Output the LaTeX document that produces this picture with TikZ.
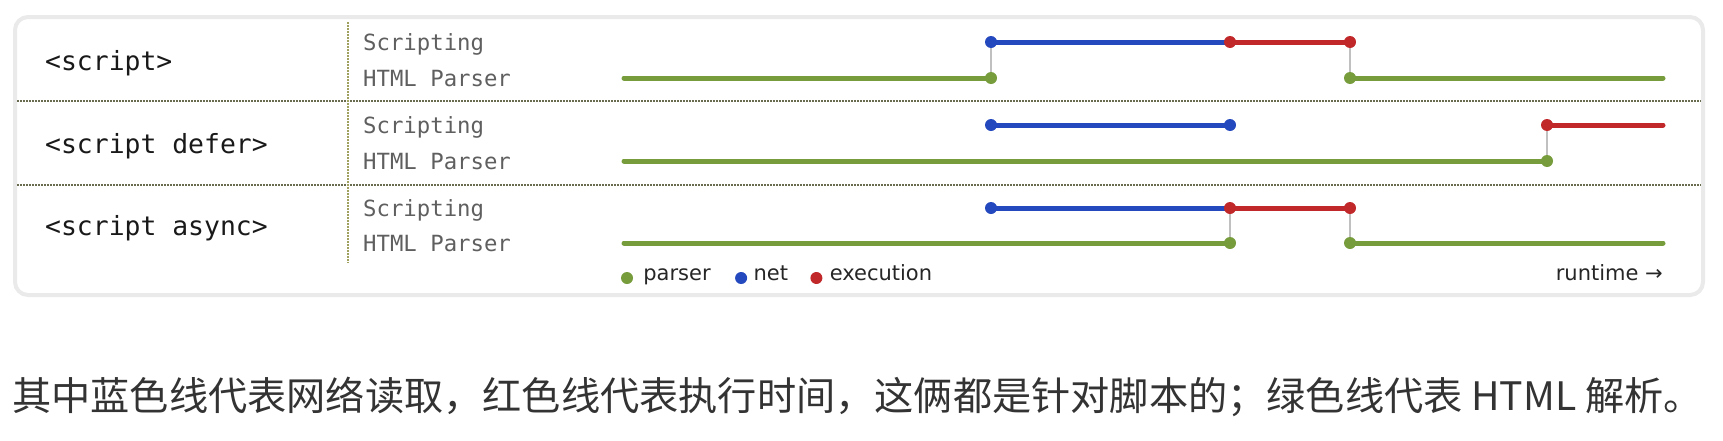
\documentclass[tikz,border=0pt]{standalone}
\usepackage{fontspec}
\setmonofont{DejaVu Sans Mono}
\setsansfont{DejaVu Sans}
\newfontfamily\cjkfont{Noto Sans CJK SC}
\usepackage{tikz}
\usetikzlibrary{positioning, backgrounds}

\definecolor{parsergreen}{RGB}{118,156,60}
\definecolor{netblue}{RGB}{36,72,190}
\definecolor{execred}{RGB}{192,40,42}
\definecolor{cardgrey}{RGB}{234,234,234}
\definecolor{sepolive}{RGB}{105,108,78}
\definecolor{divolive}{RGB}{160,160,95}
\definecolor{lanegrey}{RGB}{95,95,95}
\definecolor{linkgrey}{RGB}{192,192,192}
\definecolor{bodytext}{RGB}{51,51,51}

\begin{document}
\begin{tikzpicture}[
    x=1pt, y=-1pt,
    card/.style={draw=cardgrey, line width=4pt, rounded corners=13pt},
    rowsep/.style={draw=sepolive, line width=1.5pt, dash pattern=on 1.5pt off 1.5pt},
    divider/.style={draw=divolive, line width=1.5pt, dash pattern=on 1.5pt off 1.5pt},
    tag/.style={anchor=base west, inner sep=0pt, text=black!90,
                font=\ttfamily\fontsize{26.4}{30}\selectfont},
    lane/.style={anchor=base west, inner sep=0pt, text=lanegrey,
                 font=\ttfamily\fontsize{22.3}{26}\selectfont},
    parser/.style={draw=parsergreen, line width=5pt, line cap=round},
    net/.style={draw=netblue, line width=5pt, line cap=round},
    exec/.style={draw=execred, line width=5pt, line cap=round},
    link/.style={draw=linkgrey, line width=2pt},
    dot/.style={circle, fill=#1, inner sep=0pt, minimum size=12pt},
    key/.style={circle, fill=#1, inner sep=0pt, minimum size=12pt},
    keytext/.style={inner sep=0pt, text=black!85, text height=.75em, text depth=.2em,
                    font=\sffamily\fontsize{21}{24}\selectfont}
]
\useasboundingbox (0,0) rectangle (1723,440);

% card, row rules, divider
\draw[card] (15,17) rectangle (1703,295);
\draw[rowsep] (17,101) -- (1701,101);
\draw[rowsep] (17,185) -- (1701,185);
\draw[divider] (348,22) -- (348,263);

% left column
\node[tag] (tag-plain) at (45,70) {<script>};
\node[tag] (tag-defer) at (45,153) {<script defer>};
\node[tag] (tag-async) at (45,235) {<script async>};

\node[lane] (a-s) at (363,50) {Scripting};
\node[lane] (a-h) at (363,86) {HTML Parser};
\node[lane] (b-s) at (363,133) {Scripting};
\node[lane] (b-h) at (363,169) {HTML Parser};
\node[lane] (c-s) at (363,216) {Scripting};
\node[lane] (c-h) at (363,251) {HTML Parser};

% row a: <script>
\coordinate (a-start) at (624,78);
\coordinate (a-end) at (1663,78);
\node[dot=parsergreen] (a-p1) at (991,78) {};
\node[dot=netblue] (a-n1) at (991,42) {};
\node[dot=execred] (a-x1) at (1230,42) {};
\node[dot=execred] (a-x2) at (1350,42) {};
\node[dot=parsergreen] (a-p2) at (1350,78) {};
\begin{scope}[on background layer]
\draw[parser] (a-start) -- (a-p1.center);
\draw[link] (a-p1.center) -- (a-n1.center);
\draw[net] (a-n1.center) -- (a-x1.center);
\draw[exec] (a-x1.center) -- (a-x2.center);
\draw[link] (a-x2.center) -- (a-p2.center);
\draw[parser] (a-p2.center) -- (a-end);
\end{scope}

% row b: <script defer>
\coordinate (b-start) at (624,161);
\coordinate (b-end) at (1663,125);
\node[dot=netblue] (b-n1) at (991,125) {};
\node[dot=netblue] (b-n2) at (1230,125) {};
\node[dot=parsergreen] (b-p1) at (1547,161) {};
\node[dot=execred] (b-x1) at (1547,125) {};
\begin{scope}[on background layer]
\draw[net] (b-n1.center) -- (b-n2.center);
\draw[parser] (b-start) -- (b-p1.center);
\draw[link] (b-p1.center) -- (b-x1.center);
\draw[exec] (b-x1.center) -- (b-end);
\end{scope}

% row c: <script async>
\coordinate (c-start) at (624,243);
\coordinate (c-end) at (1663,243);
\node[dot=netblue] (c-n1) at (991,208) {};
\node[dot=parsergreen] (c-p1) at (1230,243) {};
\node[dot=execred] (c-x1) at (1230,208) {};
\node[dot=execred] (c-x2) at (1350,208) {};
\node[dot=parsergreen] (c-p2) at (1350,243) {};
\begin{scope}[on background layer]
\draw[parser] (c-start) -- (c-p1.center);
\draw[link] (c-p1.center) -- (c-x1.center);
\draw[net] (c-n1.center) -- (c-x1.center);
\draw[exec] (c-x1.center) -- (c-x2.center);
\draw[link] (c-x2.center) -- (c-p2.center);
\draw[parser] (c-p2.center) -- (c-end);
\end{scope}

% legend
\node[key=parsergreen] (k-parser) at (627,278) {};
\node[keytext, right=10pt of k-parser] (l-parser) {parser};
\node[key=netblue, right=24pt of l-parser] (k-net) {};
\node[keytext, right=6pt of k-net] (l-net) {net};
\node[key=execred, right=22pt of l-net] (k-exec) {};
\node[keytext, right=7pt of k-exec] (l-exec) {execution};
\node[keytext, anchor=east] (l-runtime) at (1663,278) {runtime →};

% note below the card
\node[anchor=base west, inner sep=0pt, text=bodytext,
      font=\cjkfont\fontsize{39.2}{44}\selectfont] (note) at (12,410)
  {其中蓝色线代表网络读取，红色线代表执行时间，这俩都是针对脚本的；绿色线代表 HTML 解析。};
\end{tikzpicture}
\end{document}
